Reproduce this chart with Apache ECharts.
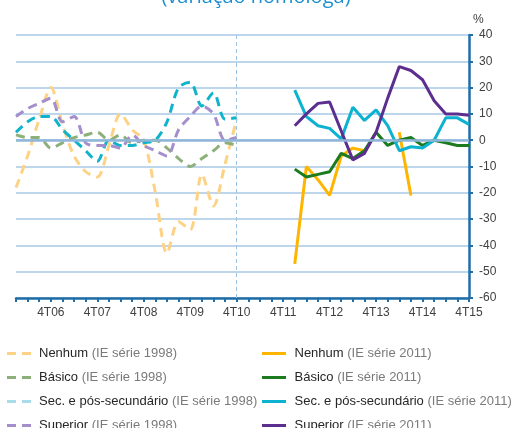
<!DOCTYPE html>
<html>
<head>
<meta charset="utf-8">
<script src="https://cdn.jsdelivr.net/npm/echarts@6/dist/echarts.min.js"></script>
<style>
  html, body { margin: 0; padding: 0; background: #fff; }
  #chart { width: 512px; height: 428px; }
</style>
</head>
<body>
<div id="chart"></div>
<script>
// trimestres 1T06 .. 4T15
let quarters = [
  '1T06','2T06','3T06','4T06','1T07','2T07','3T07','4T07',
  '1T08','2T08','3T08','4T08','1T09','2T09','3T09','4T09',
  '1T10','2T10','3T10','4T10','1T11','2T11','3T11','4T11',
  '1T12','2T12','3T12','4T12','1T13','2T13','3T13','4T13',
  '1T14','2T14','3T14','4T14','1T15','2T15','3T15','4T15'
];
let yTicks = [40, 30, 20, 10, 0, -10, -20, -30, -40, -50, -60];

// IE série 1998 (1T06 .. 4T10)
let nenhum98   = [-18, -6, 8, 20, 6, -6, -12, -14, -2, 10, 4, 0, -20, -43, -31, -34, -13, -25, -9, 8];
let basico98   = [2, 1, 1, -3, -1, 1, 2, 3, 0, 2, -1, 0, 0, -3, -7, -10, -7, -4, -1, -2];
let sec98      = [3, 7, 9, 9, 4, 0, -4, -8, 0, -2, -2, -1, 0, 7, 20, 22, 13, 18, 8, 8.5];
let superior98 = [9, 12, 14, 16, 7, 9, -1, -2, -2, -3, 2, -2, -4, -6, 4, 9, 13, 10, 0, 1];

// IE série 2011 (1T12 .. 4T15)
let nenhum11   = [-47, -10, -15, -21, -6, -3, -4, null, null, 3, -21, null, null, null, null, null];
let basico11   = [-11, -14, -13, -12, -5, -7, -4, 3, -2, 0, 1, -2, 0, -1, -2, -2];
let sec11      = [19, 9, 5.5, 4.5, 0.5, 12.5, 7.5, 11.5, 5.5, -4, -2.5, -3, 0, 8.5, 8.5, 6];
let superior11 = [5.5, 10, 14, 14.5, 3.5, -7.5, -5, 3, 16, 28, 26.5, 23, 15, 10, 10, 9.5];

let start11 = quarters.indexOf('1T12');
function pad11(vals){
    return new Array(start11).fill(null).concat(vals);
}

let chart = echarts.init(document.getElementById('chart'));

function dashed(name, data, color){
    return {
        name: name,
        type: 'line',
        data: data,
        symbol: 'none',
        smooth: 0.3,
        lineStyle: { color: color, width: 3, type: [9, 6] },
        itemStyle: { color: color }
    };
}
function solid(name, data, color){
    return {
        name: name,
        type: 'line',
        data: pad11(data),
        symbol: 'none',
        connectNulls: false,
        lineStyle: { color: color, width: 3 },
        itemStyle: { color: color }
    };
}

// ícones da legenda
let dashIcon = 'path://M0,0H9V3H0Z M15,0H24V3H15Z';
let lineIcon = 'path://M0,0H24V3H0Z';

let legendText = {
    fontSize: 13,
    lineHeight: 15,
    fontFamily: 'Liberation Sans',
    padding: [0, 0, 0, 3],
    rich: {
        a: { color: '#262626', fontSize: 13, lineHeight: 15, fontFamily: 'Liberation Sans' },
        b: { color: '#7a7a7a', fontSize: 13, lineHeight: 15, fontFamily: 'Liberation Sans' }
    }
};
function legendFmt(name){
    let i = name.indexOf(' (');
    return '{a|' + name.slice(0, i) + '} {b|' + name.slice(i + 1) + '}';
}

let series = [
    dashed('Nenhum (IE série 1998)', nenhum98, '#fdd285'),
    dashed('Básico (IE série 1998)', basico98, '#8db07a'),
    dashed('Sec. e pós-secundário (IE série 1998)', sec98, '#10b3c9'),
    dashed('Superior (IE série 1998)', superior98, '#a48ecb'),
    solid('Nenhum (IE série 2011)', nenhum11, '#ffb400'),
    solid('Básico (IE série 2011)', basico11, '#1c7a1f'),
    solid('Sec. e pós-secundário (IE série 2011)', sec11, '#0cb2cf'),
    solid('Superior (IE série 2011)', superior11, '#5b2e90')
];

// linha de zero e separação das séries
series[0].markLine = {
    silent: true,
    symbol: 'none',
    label: { show: false },
    data: [
        { yAxis: 0, lineStyle: { color: '#8fb6d9', width: 2.5, type: 'solid' } },
        { xAxis: '4T10', lineStyle: { color: '#9cc4e2', width: 1, type: [4, 3] } }
    ]
};

let option = {
    animation: false,
    title: {
        text: '(variação homóloga)',
        left: 'center',
        top: -18,
        textStyle: { color: '#1a8fd0', fontSize: 20, fontWeight: 'normal', fontFamily: 'Open Sans' }
    },
    grid: { left: 16, right: 43, top: 35, bottom: 130 },
    legend: [{
        orient: 'horizontal',
        left: 2,
        top: 341,
        width: 40,
        itemGap: 9,
        itemWidth: 24,
        itemHeight: 3,
        icon: dashIcon,
        formatter: legendFmt,
        textStyle: legendText,
        data: [
            'Nenhum (IE série 1998)',
            'Básico (IE série 1998)',
            { name: 'Sec. e pós-secundário (IE série 1998)', itemStyle: { color: '#a8dcea' } },
            'Superior (IE série 1998)'
        ]
    }, {
        orient: 'horizontal',
        left: 257,
        top: 341,
        width: 40,
        itemGap: 9,
        itemWidth: 25,
        itemHeight: 3,
        icon: lineIcon,
        formatter: legendFmt,
        textStyle: legendText,
        data: [
            'Nenhum (IE série 2011)',
            'Básico (IE série 2011)',
            'Sec. e pós-secundário (IE série 2011)',
            'Superior (IE série 2011)'
        ]
    }],
    xAxis: {
        type: 'category',
        data: quarters,
        boundaryGap: false,
        axisLine: { onZero: false, lineStyle: { color: '#1f6ea8', width: 2.5 } },
        axisTick: { show: true, interval: 0, length: 4, lineStyle: { color: '#1f6ea8', width: 2 } },
        axisLabel: {
            interval: function(i){ return i % 4 === 3; },
            color: '#404040',
            fontSize: 12,
            fontFamily: 'Liberation Sans',
            margin: 9
        },
        splitLine: { show: false }
    },
    yAxis: {
        type: 'value',
        position: 'right',
        min: yTicks[yTicks.length - 1],
        max: yTicks[0],
        interval: 10,
        name: '%',
        nameGap: 9,
        nameTextStyle: { color: '#404040', fontSize: 12, fontFamily: 'Liberation Sans', align: 'left', padding: [0, 0, 0, 4] },
        axisLine: { show: true, lineStyle: { color: '#1f6ea8', width: 2.5 } },
        axisTick: { show: true, length: 4, lineStyle: { color: '#1f6ea8', width: 2 } },
        axisLabel: { color: '#404040', fontSize: 12, fontFamily: 'Liberation Sans', margin: 10 },
        splitLine: { lineStyle: { color: '#a9c9e4', width: 1.5 } }
    },
    series: series
};

chart.setOption(option);
</script>
</body>
</html>
